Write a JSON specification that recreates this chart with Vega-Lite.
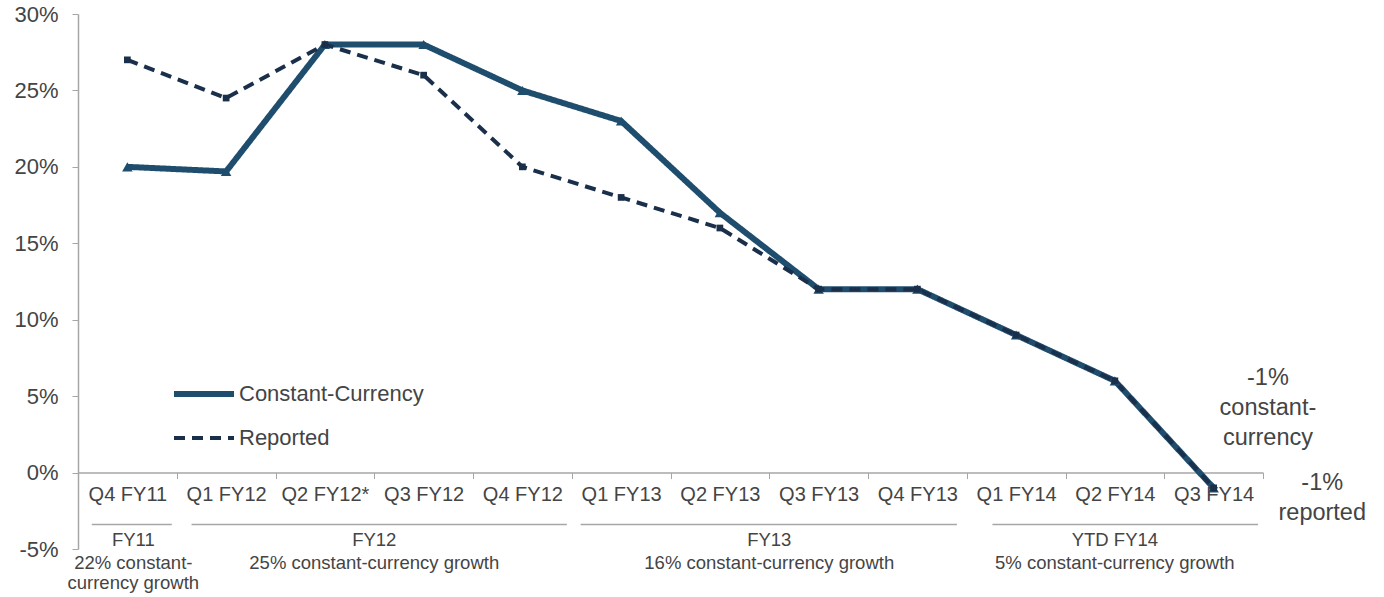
{
  "$schema": "https://vega.github.io/schema/vega-lite/v6.json",
  "width": 1185,
  "height": 535,
  "autosize": {"type": "none"},
  "padding": {"left": 78, "top": 14, "right": 121, "bottom": 48},
  "background": "white",
  "config": {
    "view": {"stroke": null},
    "font": "Liberation Sans",
    "text": {"font": "Liberation Sans", "color": "#444444"}
  },
  "datasets": {
    "series": [
      {"q": "Q4 FY11", "series": "Constant-Currency", "v": 20},
      {"q": "Q1 FY12", "series": "Constant-Currency", "v": 19.7},
      {"q": "Q2 FY12*", "series": "Constant-Currency", "v": 28},
      {"q": "Q3 FY12", "series": "Constant-Currency", "v": 28},
      {"q": "Q4 FY12", "series": "Constant-Currency", "v": 25},
      {"q": "Q1 FY13", "series": "Constant-Currency", "v": 23},
      {"q": "Q2 FY13", "series": "Constant-Currency", "v": 17},
      {"q": "Q3 FY13", "series": "Constant-Currency", "v": 12},
      {"q": "Q4 FY13", "series": "Constant-Currency", "v": 12},
      {"q": "Q1 FY14", "series": "Constant-Currency", "v": 9},
      {"q": "Q2 FY14", "series": "Constant-Currency", "v": 6},
      {"q": "Q3 FY14", "series": "Constant-Currency", "v": -1},
      {"q": "Q4 FY11", "series": "Reported", "v": 27},
      {"q": "Q1 FY12", "series": "Reported", "v": 24.5},
      {"q": "Q2 FY12*", "series": "Reported", "v": 28},
      {"q": "Q3 FY12", "series": "Reported", "v": 26},
      {"q": "Q4 FY12", "series": "Reported", "v": 20},
      {"q": "Q1 FY13", "series": "Reported", "v": 18},
      {"q": "Q2 FY13", "series": "Reported", "v": 16},
      {"q": "Q3 FY13", "series": "Reported", "v": 12},
      {"q": "Q4 FY13", "series": "Reported", "v": 12},
      {"q": "Q1 FY14", "series": "Reported", "v": 9},
      {"q": "Q2 FY14", "series": "Reported", "v": 6},
      {"q": "Q3 FY14", "series": "Reported", "v": -1}
    ],
    "groups": [
      {"label": "FY11", "sub": "22% constant-\ncurrency growth", "start": 0.14, "end": 0.95, "mid": 0.56},
      {"label": "FY12", "sub": "25% constant-currency growth", "start": 1.15, "end": 4.95, "mid": 3.0},
      {"label": "FY13", "sub": "16% constant-currency growth", "start": 5.09, "end": 8.9, "mid": 7.0},
      {"label": "YTD FY14", "sub": "5% constant-currency growth", "start": 9.26, "end": 11.95, "mid": 10.5}
    ],
    "notes": [
      {"txt": "-1%\nconstant-\ncurrency", "x": 12.05, "y": 6.97},
      {"txt": "-1%\nreported", "x": 12.6, "y": 0.1}
    ]
  },
  "resolve": {"scale": {"x": "independent"}},
  "layer": [
    {
      "data": {"name": "series"},
      "layer": [
        {
          "mark": {"type": "line"},
          "encoding": {
            "x": {
              "field": "q", "type": "nominal",
              "sort": ["Q4 FY11", "Q1 FY12", "Q2 FY12*", "Q3 FY12", "Q4 FY12", "Q1 FY13", "Q2 FY13", "Q3 FY13", "Q4 FY13", "Q1 FY14", "Q2 FY14", "Q3 FY14"],
              "scale": {"type": "band", "paddingInner": 0, "paddingOuter": 0},
              "axis": {
                "title": null, "offset": -76.43, "labelAngle": 0, "tickBand": "extent",
                "tickSize": 6, "tickColor": "#a6a6a6", "domainColor": "#a6a6a6", "domainWidth": 1.5,
                "labelFontSize": 20, "labelColor": "#444444", "labelPadding": 6, "labelFont": "Liberation Sans"
              }
            },
            "y": {
              "field": "v", "type": "quantitative",
              "scale": {"domain": [-5, 30], "nice": false, "zero": false},
              "axis": {
                "title": null, "values": [-5, 0, 5, 10, 15, 20, 25, 30], "labelExpr": "datum.value + '%'",
                "grid": false, "tickSize": 6, "tickColor": "#a6a6a6", "domainColor": "#a6a6a6", "domainWidth": 1.5,
                "labelFontSize": 22, "labelColor": "#444444", "labelPadding": 14, "labelFont": "Liberation Sans"
              }
            },
            "color": {
              "field": "series", "type": "nominal",
              "scale": {"domain": ["Constant-Currency", "Reported"], "range": ["#1f4d6e", "#1a2f4a"]},
              "legend": {
                "title": null, "orient": "none", "legendX": 108, "legendY": 362,
                "symbolType": "M-2,0H2", "symbolSize": 900, "symbolStrokeWidth": 5,
                "labelFontSize": 22, "labelColor": "#444444", "labelFont": "Liberation Sans",
                "labelOffset": 17, "rowPadding": 15, "labelLimit": 400
              }
            },
            "strokeDash": {
              "field": "series", "type": "nominal",
              "scale": {"domain": ["Constant-Currency", "Reported"], "range": [[1, 0], [11, 7]]},
              "legend": null
            },
            "strokeWidth": {
              "field": "series", "type": "nominal",
              "scale": {"domain": ["Constant-Currency", "Reported"], "range": [6, 4]},
              "legend": null
            }
          }
        },
        {
          "transform": [{"filter": "datum.series === 'Constant-Currency'"}],
          "mark": {"type": "point", "filled": true, "opacity": 1, "shape": "triangle-up", "size": 110, "color": "#1f4d6e"},
          "encoding": {
            "x": {"field": "q", "type": "nominal", "sort": ["Q4 FY11", "Q1 FY12", "Q2 FY12*", "Q3 FY12", "Q4 FY12", "Q1 FY13", "Q2 FY13", "Q3 FY13", "Q4 FY13", "Q1 FY14", "Q2 FY14", "Q3 FY14"]},
            "y": {"field": "v", "type": "quantitative"}
          }
        },
        {
          "transform": [{"filter": "datum.series === 'Reported'"}],
          "mark": {"type": "point", "filled": true, "opacity": 1, "shape": "square", "size": 45, "color": "#1a2f4a"},
          "encoding": {
            "x": {"field": "q", "type": "nominal", "sort": ["Q4 FY11", "Q1 FY12", "Q2 FY12*", "Q3 FY12", "Q4 FY12", "Q1 FY13", "Q2 FY13", "Q3 FY13", "Q4 FY13", "Q1 FY14", "Q2 FY14", "Q3 FY14"]},
            "y": {"field": "v", "type": "quantitative"}
          }
        }
      ]
    },
    {
      "layer": [
        {
          "data": {"name": "groups"},
          "mark": {"type": "rule", "color": "#a6a6a6", "strokeWidth": 1.5},
          "encoding": {
            "x": {"field": "start", "type": "quantitative", "scale": {"domain": [0, 12], "nice": false, "zero": false}, "axis": null},
            "x2": {"field": "end"},
            "y": {"datum": -3.4}
          }
        },
        {
          "data": {"name": "groups"},
          "mark": {"type": "text", "fontSize": 18.5, "baseline": "middle", "align": "center"},
          "encoding": {
            "x": {"field": "mid", "type": "quantitative", "axis": null},
            "y": {"datum": -4.4},
            "text": {"field": "label"}
          }
        },
        {
          "data": {"name": "groups"},
          "mark": {"type": "text", "fontSize": 18.5, "baseline": "top", "align": "center", "lineBreak": "\n", "lineHeight": 20},
          "encoding": {
            "x": {"field": "mid", "type": "quantitative", "axis": null},
            "y": {"datum": -5.3},
            "text": {"field": "sub"}
          }
        },
        {
          "data": {"name": "notes"},
          "mark": {"type": "text", "fontSize": 23.5, "baseline": "top", "align": "center", "lineBreak": "\n", "lineHeight": 30},
          "encoding": {
            "x": {"field": "x", "type": "quantitative", "axis": null},
            "y": {"field": "y", "type": "quantitative"},
            "text": {"field": "txt"}
          }
        }
      ]
    }
  ]
}
